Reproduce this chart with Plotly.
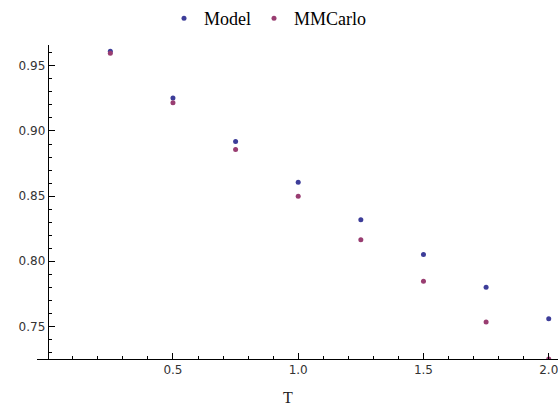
import plotly.graph_objects as go

T = [0.25, 0.5, 0.75, 1.0, 1.25, 1.5, 1.75, 2.0]
model = [0.9612, 0.9254, 0.8919, 0.8607, 0.8318, 0.8053, 0.7800, 0.7559]
mmcarlo = [0.9597, 0.9216, 0.8858, 0.8500, 0.8165, 0.7846, 0.7534, 0.7250]

x_major = [0.5, 1.0, 1.5, 2.0]
x_major_text = ["0.5", "1.0", "1.5", "2.0"]
y_major = [0.75, 0.80, 0.85, 0.90, 0.95]
y_major_text = ["0.75", "0.80", "0.85", "0.90", "0.95"]

x_minor = [round(0.1 * i, 2) for i in range(1, 21) if i % 5 != 0]
y_minor = [round(0.73 + 0.01 * i, 2) for i in range(0, 24) if (73 + i) % 5 != 0]

c_model = "#3d3d99"
c_mc = "#993d71"

fig = go.Figure()
fig.add_trace(go.Scatter(x=T, y=model, mode="markers", name="Model",
                         marker=dict(color=c_model, size=5), cliponaxis=True,
                         legend="legend"))
fig.add_trace(go.Scatter(x=T, y=mmcarlo, mode="markers", name="MMCarlo",
                         marker=dict(color=c_mc, size=5), cliponaxis=True,
                         legend="legend2"))

L, R, TOP, BOT = 37, 0, 43, 52
W, H = 558, 411
pw = W - L - R
ph = H - TOP - BOT
xmin, xmax = -0.0427, 2.037
ymin, ymax = 0.7250, 0.966

tickfont = dict(family="DejaVu Sans", size=12, color="#333333")
legfont = dict(family="Liberation Serif", size=18, color="black")


def leg(xpx):
    return dict(orientation="h", x=(xpx - L) / pw, xanchor="left",
                y=1 + (TOP - 16) / ph, yanchor="middle", font=legfont,
                itemwidth=30, bgcolor="rgba(0,0,0,0)")


fig.update_layout(
    width=W, height=H,
    margin=dict(l=L, r=R, t=TOP, b=BOT),
    paper_bgcolor="white", plot_bgcolor="white",
    showlegend=True,
    legend=leg(164),
    legend2=leg(254),
    xaxis=dict(range=[xmin, xmax], showgrid=False, zeroline=False,
               showline=True, linecolor="black", linewidth=1,
               ticks="inside", ticklen=6, tickcolor="black", tickwidth=1,
               tickmode="array", tickvals=x_major, ticktext=x_major_text,
               tickfont=tickfont, ticklabeloverflow="allow",
               minor=dict(ticks="inside", ticklen=3.5, tickcolor="black",
                          tickmode="array", tickvals=x_minor, showgrid=False)),
    yaxis=dict(range=[ymin, ymax], showgrid=False, zeroline=False,
               anchor="free", position=(47.7 - L) / pw,
               showline=True, linecolor="black", linewidth=1,
               ticks="inside", ticklen=6, tickcolor="black", tickwidth=1,
               tickmode="array", tickvals=y_major, ticktext=y_major_text,
               tickfont=tickfont,
               minor=dict(ticks="inside", ticklen=3.5, tickcolor="black",
                          tickmode="array", tickvals=y_minor, showgrid=False)),
    annotations=[dict(text="T", xref="paper", yref="paper",
                      x=(288 - L) / pw, y=-(398 - (H - BOT)) / ph,
                      xanchor="center", yanchor="middle", showarrow=False,
                      font=dict(family="Liberation Serif", size=16, color="#222222"))],
)

fig.write_html("out.html")
